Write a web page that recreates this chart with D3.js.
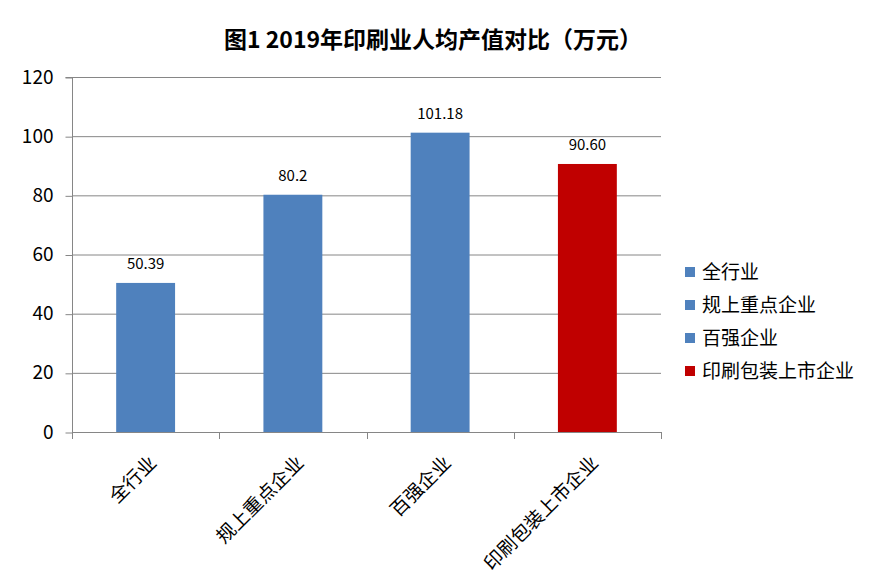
<!DOCTYPE html>
<html><head><meta charset="utf-8">
<script src="https://cdn.jsdelivr.net/npm/d3@7"></script>
<style>body{margin:0;background:#fff;} text{font-family:"Noto Sans CJK SC","Microsoft YaHei",sans-serif;}</style>
</head><body><svg id="c" width="875" height="580"></svg>
<script>
const categories = ["全行业","规上重点企业","百强企业","印刷包装上市企业"];
const values = [50.39, 80.2, 101.18, 90.60];
const valueLabels = ["50.39","80.2","101.18","90.60"];
const colors = ["#4f81bd","#4f81bd","#4f81bd","#c00000"];
const yTicks = [0,20,40,60,80,100,120];

const svg = d3.select("#c");
const L=72, R=661, T=77, B=432;
const x = d3.scaleBand().domain(categories).range([L,R]).paddingInner(0).paddingOuter(0);
const y = d3.scaleLinear().domain([0,120]).range([B,T]);
const grid="#868686";

svg.append("text").attr("x",433).attr("y",48).attr("text-anchor","middle")
  .attr("font-size",23).attr("font-weight","bold").text("图1 2019年印刷业人均产值对比（万元）");

// gridlines
svg.append("g").selectAll("line").data(yTicks.filter(d=>d>0)).join("line")
  .attr("x1",L).attr("x2",R).attr("y1",d=>y(d)+0.5).attr("y2",d=>y(d)+0.5)
  .attr("stroke",grid).attr("stroke-width",1);

// y axis
const ya = svg.append("g").attr("transform",`translate(${L+0.5},0)`)
  .call(d3.axisLeft(y).tickValues(yTicks).tickSize(7).tickPadding(12));
ya.select(".domain").attr("stroke",grid).attr("d",`M-7,${T+0.5}H0V${B+0.5}`);
ya.selectAll(".tick line").attr("stroke",grid).attr("transform","translate(0,0.5)");
ya.selectAll(".tick text").attr("font-size",19).attr("fill","#000")
  .attr("font-family","'Noto Sans CJK SC',sans-serif");

// bars
const bw = x.bandwidth()*0.4;
svg.append("g").selectAll("rect").data(values).join("rect")
  .attr("x",(d,i)=>x(categories[i])+x.bandwidth()/2-bw/2)
  .attr("width",bw).attr("y",d=>y(d)).attr("height",d=>B-y(d))
  .attr("fill",(d,i)=>colors[i]);

// x axis
svg.append("line").attr("x1",L).attr("x2",R).attr("y1",B+0.5).attr("y2",B+0.5).attr("stroke",grid);
const xt = categories.map(c=>x(c)).concat([R]);
svg.append("g").selectAll("line").data(xt).join("line")
  .attr("x1",d=>Math.round(d)+0.5).attr("x2",d=>Math.round(d)+0.5).attr("y1",B).attr("y2",B+7).attr("stroke",grid);

// data labels
svg.append("g").selectAll("text").data(values).join("text")
  .attr("x",(d,i)=>x(categories[i])+x.bandwidth()/2).attr("y",d=>y(d)-14)
  .attr("text-anchor","middle").attr("font-size",15).text((d,i)=>valueLabels[i]);

// x labels
svg.append("g").selectAll("text").data(categories).join("text")
  .attr("transform",d=>`translate(${x(d)+x.bandwidth()/2+12},${B+32}) rotate(-45)`)
  .attr("text-anchor","end").attr("font-size",19).text(d=>d);

// legend
const lg = svg.append("g").selectAll("g").data(categories).join("g")
  .attr("transform",(d,i)=>`translate(685,${272+i*33})`);
lg.append("rect").attr("x",0).attr("y",-5).attr("width",10).attr("height",10).attr("fill",(d,i)=>colors[i]);
lg.append("text").attr("x",17).attr("y",7).attr("font-size",19).text(d=>d);
</script></body></html>
